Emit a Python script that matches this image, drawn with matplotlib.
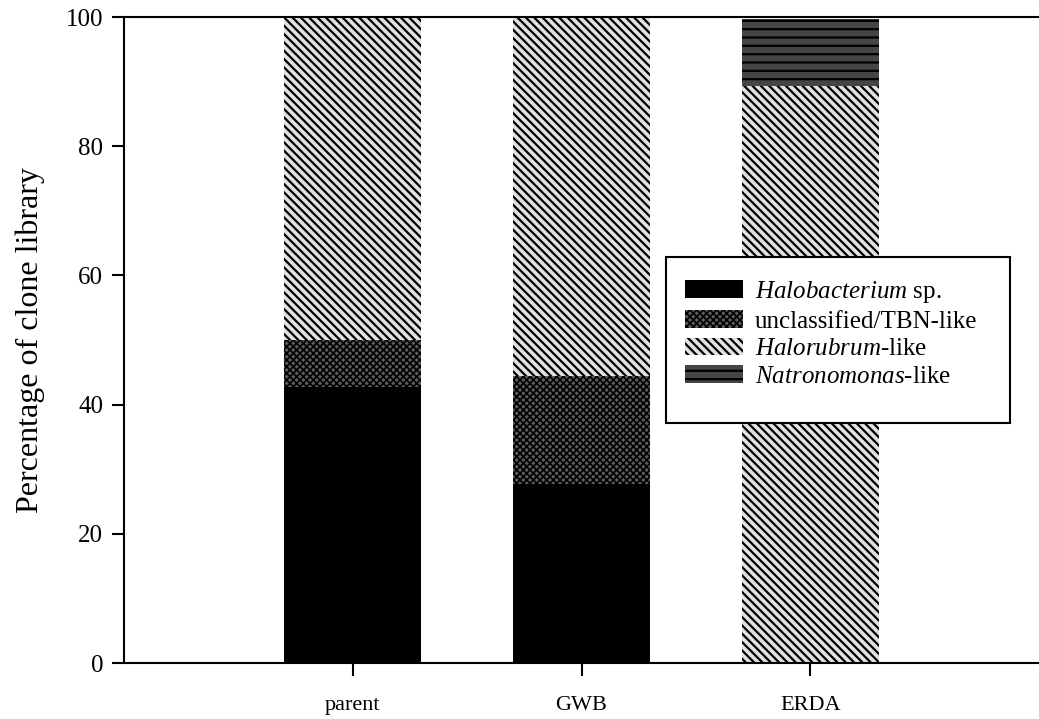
import matplotlib
matplotlib.use("Agg")
import matplotlib.pyplot as plt
from matplotlib.patches import Rectangle
import numpy as np

plt.rcParams['font.family'] = ['Liberation Serif', 'DejaVu Serif']
plt.rcParams['hatch.linewidth'] = 1.6
plt.rcParams['mathtext.fontset'] = 'custom'
plt.rcParams['mathtext.it'] = 'Liberation Serif:italic'
plt.rcParams['mathtext.rm'] = 'Liberation Serif'

categories = ["parent", "GWB", "ERDA"]
legend_labels = [r"$\mathit{Halobacterium}$ sp.",
                 "unclassified/TBN-like",
                 r"$\mathit{Halorubrum}$-like",
                 r"$\mathit{Natronomonas}$-like"]
halobacterium = [42.8, 27.7, 0.0]
unclassified = [7.2, 16.7, 0.0]
halorubrum = [50.0, 55.6, 89.3]
natronomonas = [0.0, 0.0, 10.4]
yticks = [0, 20, 40, 60, 80, 100]

series = [halobacterium, unclassified, halorubrum, natronomonas]
styles = [
    dict(facecolor="black", hatch=None, hlw=1.6),
    dict(facecolor="#5c5c5c", hatch="xxxxx", hlw=1.2),
    dict(facecolor="#e2e2e2", hatch="\\" * 4, hlw=1.6),
    dict(facecolor="#454545", hatch="--", hlw=1.6),
]

W, H = 1039, 719
fig = plt.figure(figsize=(W / 100, H / 100), dpi=100)
ax_l, ax_r, ax_t, ax_b = 124, 1039, 17, 663
ax = fig.add_axes([ax_l / W, (H - ax_b) / H, (ax_r - ax_l) / W, (ax_b - ax_t) / H])

def ax_frac(px, py):
    return ((px - ax_l) / (ax_r - ax_l), (ax_b - py) / (ax_b - ax_t))

x = np.arange(1, len(categories) + 1)
bottom = np.zeros(len(categories))
handles = []
for vals, st, lab in zip(series, styles, legend_labels):
    vals = np.array(vals)
    plt.rcParams['hatch.linewidth'] = st["hlw"]
    b = ax.bar(x, vals, width=0.6, bottom=bottom, facecolor=st["facecolor"],
               hatch=st["hatch"], edgecolor="black", linewidth=0, label=lab)
    for p in b.patches:
        if hasattr(p, "set_hatch_linewidth"):
            p.set_hatch_linewidth(st["hlw"])
    handles.append(b)
    bottom += vals

ax.set_xlim(0, 4)
ax.set_ylim(0, 100)
ax.set_xticks(x)
ax.set_xticklabels(categories, fontsize=16)
ax.set_yticks(yticks)
ax.set_yticklabels([str(t) for t in yticks], fontsize=18)
ax.tick_params(axis='both', direction='out', length=9, width=1.5)
ax.tick_params(axis='x', pad=15)
ax.tick_params(axis='y', pad=6)
ax.set_ylabel("Percentage of clone library", fontsize=23, labelpad=15)

for s in ["left", "bottom", "top"]:
    ax.spines[s].set_linewidth(1.5)
ax.spines["right"].set_visible(False)

# legend box
x0, y0 = ax_frac(666, 423)
x1, y1 = ax_frac(1010, 257)
ax.add_patch(Rectangle((x0, y0), x1 - x0, y1 - y0, transform=ax.transAxes,
                       facecolor="white", edgecolor="black", linewidth=1.5,
                       zorder=4, clip_on=False))

leg = ax.legend(handles=handles, labels=legend_labels, loc="upper left",
                bbox_to_anchor=ax_frac(685, 279),
                fontsize=18, frameon=False,
                handlelength=2.3, handleheight=0.72, handletextpad=0.5,
                labelspacing=0.2, borderpad=0, borderaxespad=0)
leg.set_zorder(5)
for h, st in zip(leg.legend_handles, styles):
    if hasattr(h, "set_hatch_linewidth"):
        h.set_hatch_linewidth(st["hlw"])

fig.savefig("out.png", dpi=100)
